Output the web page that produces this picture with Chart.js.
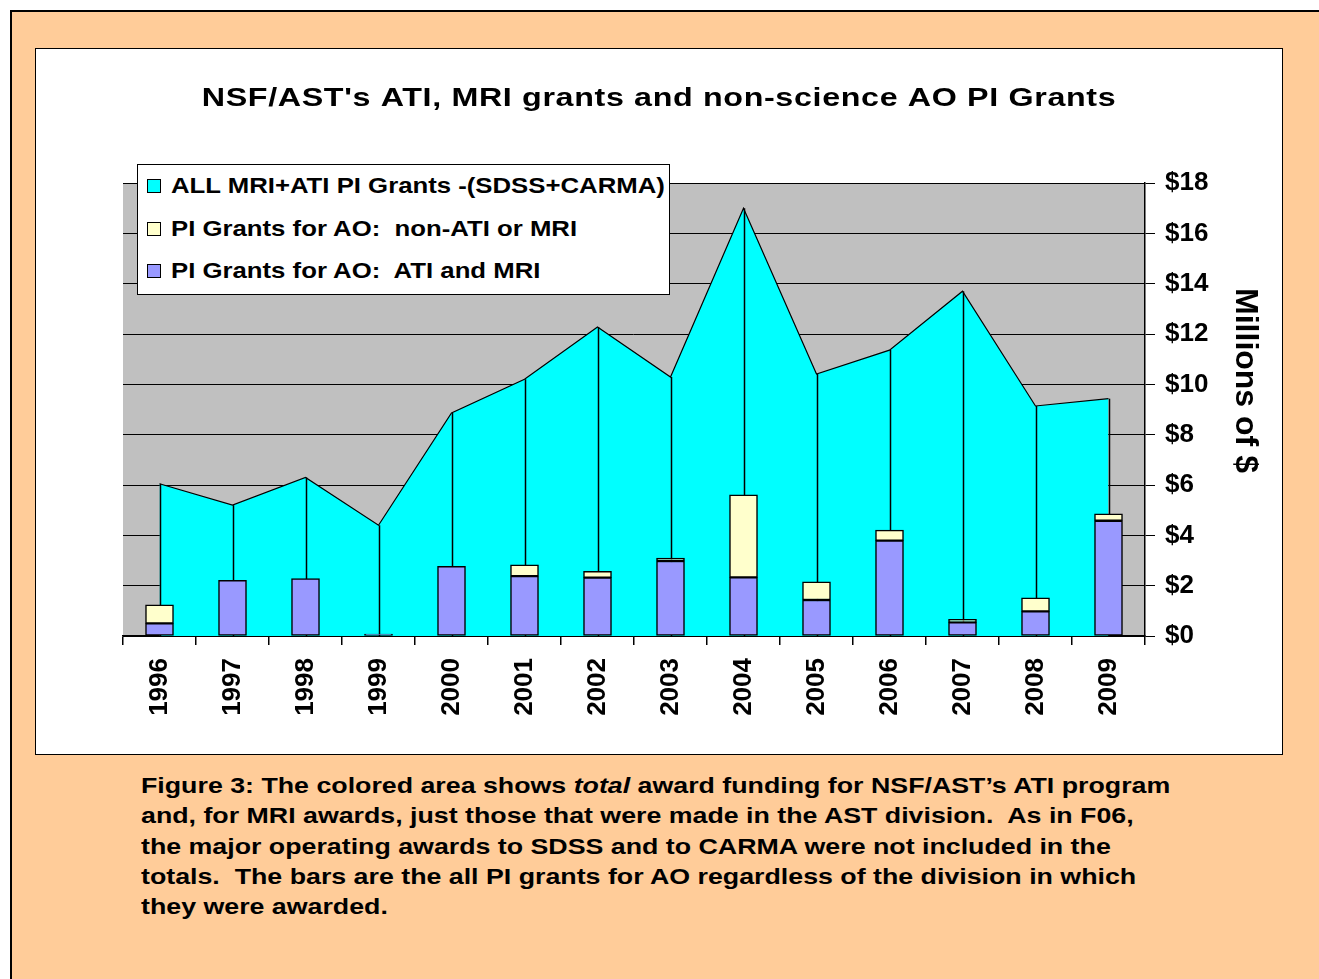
<!DOCTYPE html>
<html>
<head>
<meta charset="utf-8">
<script src="https://cdn.jsdelivr.net/npm/chart.js@4.4.1/dist/chart.umd.min.js"></script>
<style>
  body { margin: 0; background: #fff; width: 1319px; height: 979px; overflow: hidden; position: relative; font-family: Arial, "Liberation Sans", sans-serif; }
  #outer { position: absolute; left: 10px; top: 10px; width: 1320px; height: 980px; border: 2px solid #000; background: #FFCC99; box-sizing: border-box; }
  #chart-box { position: absolute; left: 35px; top: 48px; width: 1248px; height: 707px; border: 1px solid #000; background: #fff; box-sizing: border-box; }
  #chart-box canvas { position: absolute; left: 0; top: 0; }
  #legend { position: absolute; left: 101px; top: 115px; width: 533px; height: 131px; border: 1.5px solid #000; background: #fff; box-sizing: border-box; }
  .leg-item { height: 42.5px; display: flex; align-items: center; padding-left: 9px; font-weight: bold; font-size: 22px; color: #000; white-space: pre; }
  .leg-item .sw { width: 12px; height: 12px; border: 1px solid #000; margin-right: 10px; display: inline-block; flex: none; }
  .leg-item .txt { display: inline-block; transform: scaleX(1.17); transform-origin: left center; }
  #caption { position: absolute; left: 141px; top: 771px; font-weight: bold; font-size: 22.3px; line-height: 30.3px; color: #000; white-space: nowrap; transform: scaleX(1.2); transform-origin: left top; }
</style>
</head>
<body>
<div id="outer"></div>
<div id="chart-box">
  <canvas id="chart" width="1246" height="705"></canvas>
  <div id="legend"></div>
</div>
<div id="caption">Figure 3: The colored area shows <i>total</i> award funding for NSF/AST’s ATI program<br>and, for MRI awards, just those that were made in the AST division.&nbsp; As in F06,<br>the major operating awards to SDSS and to CARMA were not included in the<br>totals.&nbsp; The bars are the all PI grants for AO regardless of the division in which<br>they were awarded.</div>
<script>
const years = ['1996', '1997', '1998', '1999', '2000', '2001', '2002', '2003', '2004', '2005', '2006', '2007', '2008', '2009'];
const allGrants = [6.05, 5.2, 6.3, 4.4, 8.86, 10.2, 12.28, 10.29, 17.0, 10.41, 11.36, 13.7, 9.14, 9.43];
const aoNonAtiMri = [0.74, 0, 0, 0, 0, 0.45, 0.25, 0.12, 3.28, 0.72, 0.42, 0.12, 0.54, 0.27];
const aoAtiMri = [0.5, 2.21, 2.28, 0.08, 2.77, 2.38, 2.32, 2.98, 2.33, 1.43, 3.79, 0.54, 0.98, 4.58];
const yTicks = [0, 2, 4, 6, 8, 10, 12, 14, 16, 18];
const yTitle = 'Millions of $';

const FONT = 'Arial, "Liberation Sans", sans-serif';

const plotBg = {
    id: 'plotBg',
    beforeDraw(chart) {
        const { ctx, chartArea: a } = chart;
        ctx.save();
        ctx.fillStyle = '#C0C0C0';
        ctx.fillRect(a.left, a.top, a.right - a.left, a.bottom - a.top);
        ctx.restore();
    }
};

// vertical drop lines from each area point down to the axis
const dropLines = {
    id: 'dropLines',
    afterDatasetDraw(chart, args) {
        if (args.index !== 0) return;
        const { ctx } = chart;
        const y = chart.scales.y;
        ctx.save();
        ctx.strokeStyle = '#000';
        ctx.lineWidth = 1.5;
        args.meta.data.forEach(pt => {
            ctx.beginPath();
            ctx.moveTo(Math.round(pt.x) + 0.5, pt.y);
            ctx.lineTo(Math.round(pt.x) + 0.5, y.getPixelForValue(0));
            ctx.stroke();
        });
        ctx.restore();
    }
};

// right-hand axis title, read top to bottom, a little above the axis centre
const axisTitle = {
    id: 'axisTitle',
    afterDraw(chart) {
        const { ctx } = chart;
        const s = chart.scales.y;
        ctx.save();
        ctx.translate(s.right - 37, (s.top + s.bottom) / 2 - 29);
        ctx.rotate(Math.PI / 2);
        ctx.font = 'bold 32px ' + FONT;
        ctx.fillStyle = '#000';
        ctx.textAlign = 'center';
        ctx.textBaseline = 'middle';
        ctx.fillText(yTitle, 0, 0);
        ctx.restore();
    }
};

const chart = new Chart(document.getElementById('chart'), {
    type: 'bar',
    data: {
        labels: years,
        datasets: [
            {
                type: 'line', label: 'ALL MRI+ATI PI Grants -(SDSS+CARMA)', data: allGrants,
                borderColor: '#000', borderWidth: 1.2, backgroundColor: '#00FFFF', fill: 'origin',
                pointRadius: 0, tension: 0, order: 10
            },
            {
                label: 'PI Grants for AO:  non-ATI or MRI', data: aoNonAtiMri, stack: 's',
                backgroundColor: '#FFFFCC', borderColor: '#000', borderWidth: 1.5, borderSkipped: false,
                barThickness: 28, order: 2
            },
            {
                label: 'PI Grants for AO:  ATI and MRI', data: aoAtiMri, stack: 's',
                backgroundColor: '#9999FF', borderColor: '#000', borderWidth: 1.5, borderSkipped: false,
                barThickness: 28, order: 1
            }
        ]
    },
    options: {
        responsive: false,
        animation: false,
        layout: { padding: { left: 87, right: 0, top: 0, bottom: 0 } },
        plugins: {
            legend: { display: false },
            tooltip: { enabled: false },
            title: {
                display: true,
                text: "NSF/AST's ATI, MRI grants and non-science AO PI Grants",
                color: '#000',
                font: { family: FONT, size: 25, weight: 'bold' },
                padding: { top: 35, bottom: 69 }
            }
        },
        scales: {
            x: {
                stacked: true,
                offset: true,
                grid: { offset: true, drawOnChartArea: false, color: '#000', tickLength: 9, lineWidth: 1.5 },
                border: { color: '#000', width: 1.5 },
                ticks: { color: '#000', font: { family: FONT, size: 26, weight: 'bold' }, minRotation: 90, maxRotation: 90, padding: 13, autoSkip: false },
                afterFit(scale) { scale.height = 118; }
            },
            y: {
                position: 'right',
                stacked: true,
                min: 0, max: 18,
                afterBuildTicks(scale) { scale.ticks = yTicks.map(v => ({ value: v })); },
                grid: { color: '#000', lineWidth: 1, tickLength: 10 },
                border: { color: '#000', width: 1.5 },
                ticks: {
                    color: '#000', font: { family: FONT, size: 26, weight: 'bold' }, padding: 10,
                    callback: v => '$' + v
                },
                afterFit(scale) { scale.width = 137; }
            }
        }
    },
    plugins: [plotBg, dropLines, axisTitle]
});

// the title is drawn wide (stretched) and centred on the whole chart box
const tb = chart.titleBlock;
const drawTitle = tb.draw.bind(tb);
tb.draw = function () {
    const ctx = chart.ctx;
    const bc = tb.left + tb.width / 2;
    ctx.save();
    ctx.translate(chart.width / 2, 0);
    ctx.scale(1.29, 1);
    ctx.translate(-bc, 0);
    ctx.letterSpacing = '0.5px';
    drawTitle();
    ctx.restore();
};
chart.draw();

// HTML legend built from the chart datasets
const legendEl = document.getElementById('legend');
chart.data.datasets.forEach(ds => {
    const item = document.createElement('div');
    item.className = 'leg-item';
    const sw = document.createElement('span');
    sw.className = 'sw';
    sw.style.background = ds.backgroundColor;
    const txt = document.createElement('span');
    txt.className = 'txt';
    txt.textContent = ds.label;
    item.append(sw, txt);
    legendEl.appendChild(item);
});
</script>
</body>
</html>
